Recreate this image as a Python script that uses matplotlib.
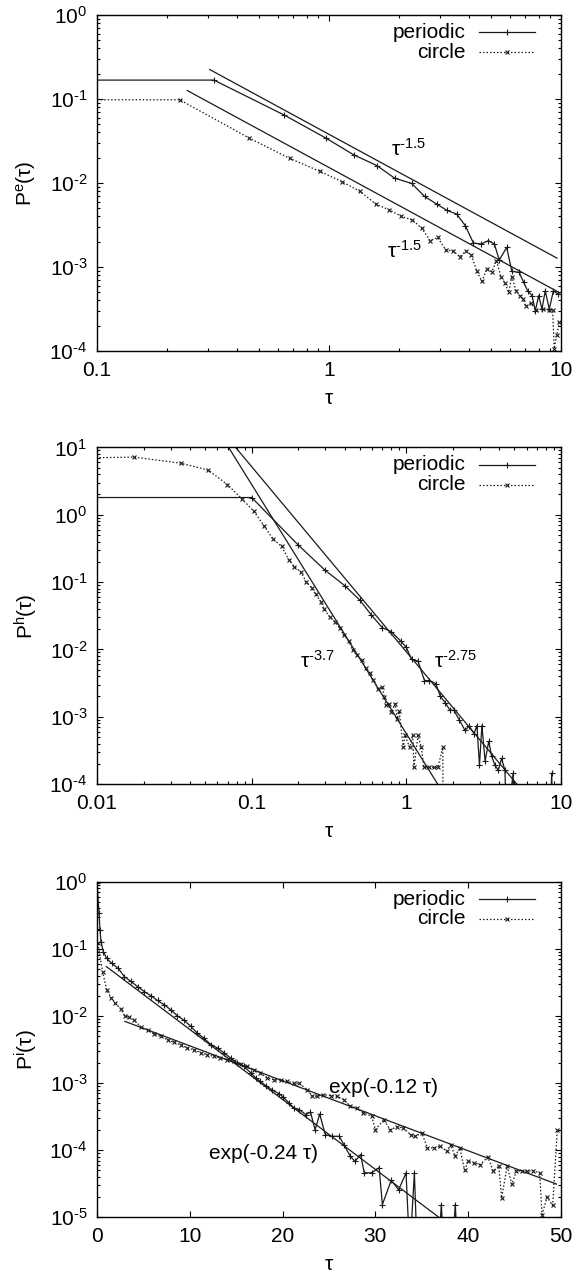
import matplotlib
matplotlib.use("Agg")
import matplotlib.pyplot as plt
import numpy as np
from matplotlib.ticker import LogLocator, NullFormatter, MultipleLocator, FuncFormatter

FS = 15
plt.rcParams['font.family'] = ['Liberation Sans', 'DejaVu Sans']
plt.rcParams['font.size'] = FS
plt.rcParams['mathtext.fontset'] = 'custom'
plt.rcParams['mathtext.rm'] = 'Liberation Sans'
plt.rcParams['mathtext.it'] = 'Liberation Sans:italic'
plt.rcParams['mathtext.default'] = 'regular'

# ---------- панель 1: P^e(tau) ----------
pe_periodic_tau = [0.05, 0.319, 0.64, 0.967, 1.28, 1.61, 1.92, 2.27, 2.58, 2.91,
                   3.22, 3.55, 3.87, 4.19, 4.53, 4.86, 5.16, 5.42, 5.83, 6.14,
                   6.6, 6.9, 7.18, 7.5, 7.75, 8.01, 8.28, 8.55, 8.9, 9.27,
                   9.68, 10.3]
pe_periodic_p = [0.168, 0.168, 0.0646, 0.0344, 0.0216, 0.0161, 0.0114, 0.0099, 0.00693, 0.00562,
                 0.00473, 0.00427, 0.0031, 0.00193, 0.00188, 0.00206, 0.00188, 0.00121, 0.00171, 0.000887,
                 0.000865, 0.000657, 0.000522, 0.000456, 0.000302, 0.000456, 0.000316, 0.00052, 0.000316, 0.00052,
                 0.00048, 0.00052]
pe_circle_tau = [0.05, 0.227, 0.452, 0.676, 0.912, 1.135, 1.36, 1.59, 1.81, 2.05,
                 2.29, 2.51, 2.73, 2.94, 3.19, 3.43, 3.66, 3.89, 4.1, 4.34,
                 4.56, 4.79, 5.03, 5.27, 5.51, 5.75, 5.94, 6.14, 6.4, 6.65,
                 6.87, 7.06, 7.4, 7.8, 8.33, 8.85, 9.2, 9.35, 9.58, 9.84]
pe_circle_p = [0.098, 0.098, 0.0344, 0.0197, 0.0138, 0.0104, 0.00796, 0.00562, 0.00482, 0.00401,
               0.00363, 0.00289, 0.00206, 0.00225, 0.00159, 0.00156, 0.00133, 0.00154, 0.0014, 0.000887,
               0.000676, 0.00095, 0.00088, 0.00119, 0.000767, 0.00064, 0.0005, 0.000767, 0.00052, 0.000456,
               0.000416, 0.00034, 0.00037, 0.000308, 0.000316, 0.000308, 0.000308, 0.000107, 0.000155, 0.000219]
# степенные аппроксимации: (A, показатель, tau_min, tau_max)
pe_fits = [(0.038, -1.5, 0.306, 9.6), (0.0153, -1.5, 0.245, 9.8)]
pe_labels = [(1.85, 0.0254, r'τ$^{\text{-1.5}}$'), (1.78, 0.00156, r'τ$^{\text{-1.5}}$')]

# ---------- панель 2: P^h(tau) ----------
ph_periodic_tau = [0.005, 0.1, 0.2, 0.297, 0.4, 0.5, 0.594, 0.7, 0.8, 0.92,
                   1.0, 1.08, 1.19, 1.31, 1.41, 1.55, 1.66, 1.79, 1.91, 2.03,
                   2.2, 2.39, 2.55, 2.74, 2.86, 2.97, 3.08, 3.23, 3.41, 3.56,
                   3.74, 3.93, 4.13, 4.34, 4.45, 4.9, 5.0, 8.5, 8.7, 8.9]
ph_periodic_p = [1.8, 1.8, 0.355, 0.151, 0.0883, 0.054, 0.0324, 0.021, 0.0183, 0.0133,
                 0.0107, 0.0071, 0.0067, 0.00343, 0.00343, 0.0031, 0.002, 0.0016, 0.00126, 0.00124,
                 0.0009, 0.00063, 0.00072, 0.00056, 0.00074, 0.00019, 0.00074, 0.00022, 0.00043, 0.00026,
                 0.00019, 0.00016, 0.00024, 0.00016, 0.00002, 0.000145, 0.00002, 0.00002, 0.000145, 0.00002]
ph_circle_tau = [0.005, 0.0173, 0.0347, 0.0524, 0.0696, 0.0864, 0.1035, 0.12, 0.137, 0.156,
                 0.174, 0.189, 0.208, 0.225, 0.245, 0.259, 0.28, 0.295, 0.322, 0.344,
                 0.373, 0.394, 0.423, 0.452, 0.477, 0.518, 0.547, 0.578, 0.61, 0.655,
                 0.7, 0.72, 0.74, 0.773, 0.8, 0.847, 0.871, 0.9, 0.955, 0.98,
                 1.05, 1.1, 1.12, 1.19, 1.25, 1.3, 1.4, 1.5, 1.6, 1.72,
                 1.73]
ph_circle_p = [6.85, 7.17, 5.84, 4.59, 2.81, 1.72, 1.12, 0.687, 0.44, 0.338,
               0.214, 0.17, 0.14, 0.1016, 0.081, 0.0658, 0.0511, 0.0393, 0.0298, 0.0257,
               0.0205, 0.0163, 0.0134, 0.0097, 0.0082, 0.0069, 0.0052, 0.0045, 0.00355, 0.00261,
               0.00276, 0.00196, 0.00147, 0.00156, 0.00117, 0.00156, 0.00093, 0.0012, 0.00035, 0.00053,
               0.00035, 0.00053, 0.000177, 0.00053, 0.00035, 0.000177, 0.000177, 0.000177, 0.000177, 0.00035,
               0.00002]
ph_fits = [(0.0092, -2.75, 0.07, 6.0), (5.6e-4, -3.7, 0.06, 1.7)]
ph_labels = [(0.205, 0.0068, r'τ$^{\text{-3.7}}$'), (1.52, 0.0068, r'τ$^{\text{-2.75}}$')]

# ---------- панель 3: P^i(tau) ----------
pi_periodic_tau = [0, 0.22, 0.32, 0.43, 0.68, 1.04, 1.58, 2.3, 2.94, 3.66,
                   4.37, 5.09, 5.81, 6.52, 7.24, 7.96, 8.67, 9.4, 10.1, 10.8,
                   11.5, 12.3, 13.0, 13.7, 14.4, 15.1, 15.8, 16.6, 17.1, 17.6,
                   18.2, 18.9, 19.6, 20.0, 20.7, 21.2, 21.8, 22.5, 23.0, 23.5,
                   24.0, 24.6, 25.3, 26.1, 26.6, 27.3, 27.8, 28.4, 28.8, 29.6,
                   30.4, 30.75, 31.7, 32.5, 33.3, 33.7, 34.2, 34.5, 36.8, 37.1,
                   37.4, 38.3, 38.6, 38.9]
pi_periodic_p = [0.95, 0.34, 0.19, 0.128, 0.091, 0.072, 0.061, 0.051, 0.0386, 0.0326,
                 0.0274, 0.0231, 0.02, 0.017, 0.0147, 0.0123, 0.01, 0.0086, 0.007, 0.00555,
                 0.00468, 0.00372, 0.00332, 0.0028, 0.00236, 0.00199, 0.00177, 0.00141, 0.00119, 0.00106,
                 0.00091, 0.00079, 0.000695, 0.00063, 0.000504, 0.000426, 0.000402, 0.000339, 0.00037, 0.000202,
                 0.000345, 0.00017, 0.000161, 0.000161, 0.000121, 8.1e-5, 6.8e-5, 8.6e-5, 4.6e-5, 4.6e-5,
                 5.5e-5, 1.55e-5, 3.55e-5, 2.57e-5, 4.57e-5, 3e-6, 4.57e-5, 3e-6, 3e-6, 1.55e-5,
                 3e-6, 3e-6, 1.55e-5, 3e-6]
pi_circle_tau = [0.1, 0.6, 1.04, 1.5, 1.97, 2.58, 3.0, 3.48, 4.0, 4.73,
                 5.45, 6.16, 6.88, 7.6, 8.3, 9.0, 9.75, 10.5, 11.2, 11.9,
                 12.6, 13.3, 14.05, 14.8, 15.5, 16.2, 16.9, 17.6, 18.35, 19.07,
                 19.8, 20.5, 21.2, 21.75, 22.65, 23.2, 23.7, 24.4, 25.2, 25.9,
                 26.6, 27.3, 28.0, 28.7, 29.6, 30.0, 30.9, 31.6, 32.3, 33.0,
                 33.8, 34.3, 35.0, 35.6, 36.3, 37.0, 37.7, 38.1, 38.6, 39.1,
                 39.6, 40.0, 40.6, 41.3, 42.1, 42.7, 43.3, 43.6, 44.2, 44.7,
                 45.2, 45.8, 46.3, 47.0, 47.7, 47.95, 48.5, 49.1, 49.6]
pi_circle_p = [0.12, 0.0458, 0.0245, 0.0188, 0.0155, 0.0126, 0.01, 0.0095, 0.00877, 0.00675,
               0.00622, 0.00537, 0.00495, 0.00442, 0.00403, 0.00372, 0.00332, 0.00313, 0.0028, 0.00264,
               0.00249, 0.00236, 0.00223, 0.0021, 0.00194, 0.00177, 0.00158, 0.00141, 0.00119, 0.00112,
               0.0011, 0.00106, 0.001, 0.001, 0.0008, 0.000634, 0.000634, 0.00067, 0.00065, 0.000634,
               0.000566, 0.00045, 0.000425, 0.000358, 0.00032, 0.000202, 0.000285, 0.000202, 0.000222, 0.000214,
               0.00017, 0.000161, 0.000181, 0.000108, 0.000108, 0.000115, 9.6e-5, 0.000121, 8.1e-5, 0.000108,
               5.1e-5, 6.8e-5, 6.5e-5, 6.1e-5, 7.9e-5, 4.9e-5, 5.8e-5, 1.95e-5, 5.8e-5, 3.1e-5,
               4.9e-5, 4.9e-5, 4.9e-5, 4.9e-5, 4.6e-5, 1.1e-5, 2e-5, 1.5e-5, 2e-4]
# экспоненциальные аппроксимации: (A, скорость, tau_min, tau_max)
pi_fits = [(0.0692, 0.24, 1.0, 37.0), (0.0119, 0.12, 3.0, 49.5)]
pi_labels = [(25.0, 8.7e-4, 'exp(-0.12 τ)'), (12.1, 8.9e-5, 'exp(-0.24 τ)')]

legend_names = ['periodic', 'circle']
DARK = '#1a1a1a'


def pow10_label(v, pos):
    # подписи 10^n с коротким дефисом, как в gnuplot
    n = int(round(np.log10(v)))
    return r'10$^{\text{%d}}$' % n


def style_axes(ax):
    """Оформление в стиле gnuplot: засечки внутрь со всех сторон."""
    for s in ax.spines.values():
        s.set_linewidth(1.0)
    ax.tick_params(which='both', direction='in', top=True, right=True, pad=7,
                   labelsize=FS, width=0.8)
    ax.tick_params(which='major', length=4.5)
    ax.tick_params(which='minor', length=2.5)


def draw_series(ax, tau_p, p_p, tau_c, p_c):
    ax.plot(tau_p, p_p, color=DARK, lw=0.9, marker='+', ms=5, mew=0.8)
    ax.plot(tau_c, p_c, color=DARK, lw=0.9, ls=(0, (1.2, 1.6)), marker='x', ms=3.5, mew=0.8)


def draw_legend(ax):
    # легенда как в gnuplot: подпись справа выровнена, потом образец линии
    for i, name in enumerate(legend_names):
        y = 0.948 - i * 0.059
        ax.text(0.795, y, name, transform=ax.transAxes, ha='right', va='center', fontsize=FS)
        ls = '-' if i == 0 else (0, (1.2, 1.6))
        mk = '+' if i == 0 else 'x'
        ax.plot([0.824, 0.945], [y, y], transform=ax.transAxes, color=DARK, lw=0.9, ls=ls)
        ax.plot([0.8845], [y], transform=ax.transAxes, color=DARK, marker=mk,
                ms=5 if i == 0 else 3.5, mew=0.8)


def put_labels(ax, labels):
    for x, y, s in labels:
        ax.text(x, y, s, ha='left', va='center', fontsize=FS)


def set_axis_labels(ax, ylab):
    ax.set_xlabel('τ', fontsize=FS)
    ax.set_ylabel(ylab, fontsize=FS)
    ax.xaxis.label.set_va('center')
    ax.yaxis.label.set_va('center')
    ax.xaxis.set_label_coords(0.5, -0.14)
    ax.yaxis.set_label_coords(-0.152, 0.5)


fig = plt.figure(figsize=(5.77, 12.83), dpi=100)
left, width = 0.1681, 0.8042

# ---------- 1 ----------
ax1 = fig.add_axes([left, 0.7264, width, 0.2619])
draw_series(ax1, pe_periodic_tau, pe_periodic_p, pe_circle_tau, pe_circle_p)
for A, k, t0, t1 in pe_fits:
    t = np.array([t0, t1])
    ax1.plot(t, A * t ** k, color=DARK, lw=0.9)
ax1.set_xscale('log')
ax1.set_yscale('log')
ax1.set_xlim(0.1, 10)
ax1.set_ylim(1e-4, 1)
ax1.set_xticks([0.1, 1, 10])
ax1.set_xticklabels(['0.1', '1', '10'])
put_labels(ax1, pe_labels)
draw_legend(ax1)
set_axis_labels(ax1, r'P$^{e}$(τ)')
style_axes(ax1)

# ---------- 2 ----------
ax2 = fig.add_axes([left, 0.3889, width, 0.2624])
draw_series(ax2, ph_periodic_tau, ph_periodic_p, ph_circle_tau, ph_circle_p)
for A, k, t0, t1 in ph_fits:
    t = np.array([t0, t1])
    ax2.plot(t, A * t ** k, color=DARK, lw=0.9)
ax2.set_xscale('log')
ax2.set_yscale('log')
ax2.set_xlim(0.01, 10)
ax2.set_ylim(1e-4, 10)
ax2.set_xticks([0.01, 0.1, 1, 10])
ax2.set_xticklabels(['0.01', '0.1', '1', '10'])
put_labels(ax2, ph_labels)
draw_legend(ax2)
set_axis_labels(ax2, r'P$^{h}$(τ)')
style_axes(ax2)

# ---------- 3 ----------
ax3 = fig.add_axes([left, 0.0512, width, 0.2616])
draw_series(ax3, pi_periodic_tau, pi_periodic_p, pi_circle_tau, pi_circle_p)
for A, r, t0, t1 in pi_fits:
    t = np.array([t0, t1])
    ax3.plot(t, A * np.exp(-r * t), color=DARK, lw=0.9)
ax3.set_yscale('log')
ax3.set_xlim(0, 50)
ax3.set_ylim(1e-5, 1)
ax3.xaxis.set_major_locator(MultipleLocator(10))
put_labels(ax3, pi_labels)
draw_legend(ax3)
set_axis_labels(ax3, r'P$^{i}$(τ)')
style_axes(ax3)

for ax in (ax1, ax2, ax3):
    ax.yaxis.set_major_locator(LogLocator(base=10, numticks=20))
    ax.yaxis.set_major_formatter(FuncFormatter(pow10_label))
    ax.yaxis.set_minor_locator(LogLocator(base=10, subs=np.arange(2, 10), numticks=20))
    ax.yaxis.set_minor_formatter(NullFormatter())
for ax in (ax1, ax2):
    ax.xaxis.set_minor_locator(LogLocator(base=10, subs=np.arange(2, 10), numticks=20))
    ax.xaxis.set_minor_formatter(NullFormatter())

fig.savefig('out.png', dpi=100)
